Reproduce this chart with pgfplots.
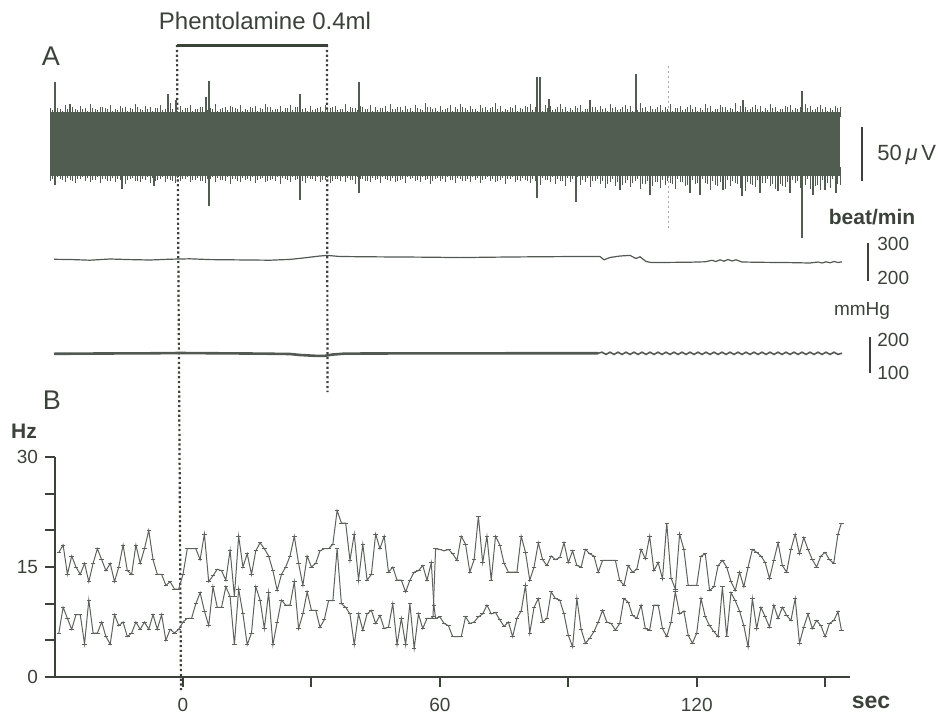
\documentclass[border=0pt]{standalone}
\usepackage{pgfplots}
\pgfplotsset{compat=1.18}
\usepackage{fontspec}
\setmainfont{Liberation Sans}
\definecolor{ink}{RGB}{58,66,58}
\definecolor{band}{RGB}{80,93,80}
\definecolor{trace}{RGB}{82,88,82}
\definecolor{btrace}{RGB}{92,98,92}
\pgfplotsset{hair/.style={draw=none, mark=none, forget plot, error bars/.cd, y dir=both, y explicit, error mark=none,
  error bar style={draw=band, line width=0.45pt}}}
\begin{document}
\begin{tikzpicture}
\useasboundingbox (0pt,0pt) rectangle (472pt,356.5pt);
% ---------------- panel A in pixel coordinates ----------------
\begin{axis}[at={(0pt,0pt)}, anchor=south west, width=472pt, height=356.5pt, scale only axis,
  xmin=0, xmax=944, ymin=0, ymax=713, y dir=reverse, axis lines=none, clip=false]
\coordinate (Bsw) at (axis cs:55,677);
% dotted drug markers
\draw[ink, line width=1.1pt, dash pattern=on 1.1pt off 1.3pt] (axis cs:177,45) -- (axis cs:181,690);
\draw[ink, line width=1.1pt, dash pattern=on 1.1pt off 1.3pt] (axis cs:327,45) -- (axis cs:327.5,392);
\draw[ink, line width=1.5pt] (axis cs:176.5,45) -- (axis cs:327.8,45);
\draw[gray!70, line width=0.5pt, dash pattern=on 1pt off 1.5pt] (axis cs:668,66) -- (axis cs:668,230);
% nerve activity band
\addplot[fill=band, draw=none, mark=none, forget plot] coordinates {(50,112) (840,112) (840,176) (50,176)};
% hairs on upper edge
\addplot[hair] table[x=x, y=y, y error=e] {
x y e
50 112 4
55 112 6
60 112 3
65 112 7
70 112 5
75 112 3
80 112 6
85 112 4
90 112 8
95 112 3
100 112 5
105 112 4
110 112 7
115 112 3
120 112 6
125 112 5
130 112 4
135 112 8
140 112 3
145 112 6
150 112 5
155 112 4
160 112 7
165 112 3
170 112 9
175 112 5
180 112 6
185 112 4
190 112 7
195 112 3
200 112 5
205 112 6
210 112 4
215 112 8
220 112 3
225 112 5
230 112 6
235 112 4
240 112 7
245 112 3
250 112 5
255 112 6
260 112 4
265 112 8
270 112 5
275 112 3
280 112 6
285 112 4
290 112 7
295 112 5
300 112 9
305 112 4
310 112 6
315 112 3
320 112 5
325 112 7
330 112 4
335 112 6
340 112 3
345 112 8
350 112 5
355 112 4
360 112 6
365 112 3
370 112 7
375 112 5
380 112 4
385 112 6
390 112 8
395 112 3
400 112 5
405 112 6
410 112 4
415 112 7
420 112 3
425 112 9
430 112 5
435 112 4
440 112 6
445 112 3
450 112 7
455 112 5
460 112 8
465 112 4
470 112 6
475 112 3
480 112 7
485 112 5
490 112 4
495 112 9
500 112 6
505 112 3
510 112 5
515 112 7
520 112 4
525 112 6
530 112 8
535 112 5
540 112 4
545 112 7
550 112 6
555 112 3
560 112 8
565 112 5
570 112 4
575 112 6
580 112 7
585 112 3
590 112 9
595 112 5
600 112 6
605 112 4
610 112 8
615 112 5
620 112 3
625 112 7
630 112 6
635 112 4
640 112 9
645 112 5
650 112 6
655 112 3
660 112 7
665 112 5
670 112 8
675 112 4
680 112 6
685 112 3
690 112 7
695 112 5
700 112 4
705 112 8
710 112 6
715 112 3
720 112 7
725 112 5
730 112 4
735 112 9
740 112 6
745 112 5
750 112 3
755 112 7
760 112 6
765 112 4
770 112 8
775 112 5
780 112 3
785 112 6
790 112 7
795 112 4
800 112 5
805 112 8
810 112 6
815 112 3
820 112 7
825 112 5
830 112 4
835 112 6
840 112 5
};
\addplot[hair] table[x=x, y=y, y error=e] {
x y e
52.5 112 2
57.5 112 4
62.5 112 1
67.5 112 3
72.5 112 5
77.5 112 2
82.5 112 3
87.5 112 1
92.5 112 4
97.5 112 2
102.5 112 5
107.5 112 3
112.5 112 1
117.5 112 2
122.5 112 4
127.5 112 1
132.5 112 3
137.5 112 5
142.5 112 2
147.5 112 3
152.5 112 1
157.5 112 4
162.5 112 2
167.5 112 5
172.5 112 3
177.5 112 1
182.5 112 2
187.5 112 4
192.5 112 1
197.5 112 3
202.5 112 5
207.5 112 2
212.5 112 3
217.5 112 1
222.5 112 4
227.5 112 2
232.5 112 5
237.5 112 3
242.5 112 1
247.5 112 2
252.5 112 4
257.5 112 1
262.5 112 3
267.5 112 5
272.5 112 2
277.5 112 3
282.5 112 1
287.5 112 4
292.5 112 2
297.5 112 5
302.5 112 3
307.5 112 1
312.5 112 2
317.5 112 4
322.5 112 1
327.5 112 3
332.5 112 5
337.5 112 2
342.5 112 3
347.5 112 1
352.5 112 4
357.5 112 2
362.5 112 5
367.5 112 3
372.5 112 1
377.5 112 2
382.5 112 4
387.5 112 1
392.5 112 3
397.5 112 5
402.5 112 2
407.5 112 3
412.5 112 1
417.5 112 4
422.5 112 2
427.5 112 5
432.5 112 3
437.5 112 1
442.5 112 2
447.5 112 4
452.5 112 1
457.5 112 3
462.5 112 5
467.5 112 2
472.5 112 3
477.5 112 1
482.5 112 4
487.5 112 2
492.5 112 5
497.5 112 3
502.5 112 1
507.5 112 2
512.5 112 4
517.5 112 1
522.5 112 3
527.5 112 5
532.5 112 2
537.5 112 3
542.5 112 1
547.5 112 4
552.5 112 2
557.5 112 5
562.5 112 3
567.5 112 1
572.5 112 2
577.5 112 4
582.5 112 1
587.5 112 3
592.5 112 5
597.5 112 2
602.5 112 3
607.5 112 1
612.5 112 4
617.5 112 2
622.5 112 5
627.5 112 3
632.5 112 1
637.5 112 2
642.5 112 4
647.5 112 1
652.5 112 3
657.5 112 5
662.5 112 2
667.5 112 3
672.5 112 1
677.5 112 4
682.5 112 2
687.5 112 5
692.5 112 3
697.5 112 1
702.5 112 2
707.5 112 4
712.5 112 1
717.5 112 3
722.5 112 5
727.5 112 2
732.5 112 3
737.5 112 1
742.5 112 4
747.5 112 2
752.5 112 5
757.5 112 3
762.5 112 1
767.5 112 2
772.5 112 4
777.5 112 1
782.5 112 3
787.5 112 5
792.5 112 2
797.5 112 3
802.5 112 1
807.5 112 4
812.5 112 2
817.5 112 5
822.5 112 3
827.5 112 1
832.5 112 2
837.5 112 4
};
% hairs on lower edge
\addplot[hair] table[x=x, y=y, y error=e] {
x y e
50 176 5
55 176 8
60 176 3
65 176 6
70 176 4
75 176 7
80 176 3
85 176 5
90 176 6
95 176 4
100 176 7
105 176 3
110 176 5
115 176 6
120 176 4
125 176 8
130 176 3
135 176 5
140 176 6
145 176 4
150 176 7
155 176 5
160 176 3
165 176 6
170 176 4
175 176 7
180 176 5
185 176 3
190 176 6
195 176 4
200 176 5
205 176 7
210 176 3
215 176 6
220 176 4
225 176 5
230 176 8
235 176 3
240 176 6
245 176 4
250 176 5
255 176 7
260 176 3
265 176 6
270 176 4
275 176 5
280 176 8
285 176 3
290 176 6
295 176 4
300 176 5
305 176 7
310 176 3
315 176 5
320 176 6
325 176 4
330 176 7
335 176 3
340 176 5
345 176 6
350 176 4
355 176 8
360 176 3
365 176 5
370 176 6
375 176 4
380 176 7
385 176 3
390 176 5
395 176 6
400 176 4
405 176 7
410 176 3
415 176 5
420 176 6
425 176 4
430 176 8
435 176 3
440 176 5
445 176 6
450 176 4
455 176 7
460 176 3
465 176 5
470 176 6
475 176 4
480 176 7
485 176 3
490 176 5
495 176 6
500 176 4
505 176 8
510 176 3
515 176 6
520 176 5
525 176 4
530 176 7
535 176 5
540 176 9
545 176 4
550 176 6
555 176 8
560 176 5
565 176 10
570 176 6
575 176 4
580 176 9
585 176 6
590 176 11
595 176 5
600 176 8
605 176 12
610 176 6
615 176 10
620 176 14
625 176 7
630 176 11
635 176 5
640 176 13
645 176 8
650 176 10
655 176 6
660 176 12
665 176 9
670 176 7
675 176 13
680 176 6
685 176 10
690 176 15
695 176 8
700 176 12
705 176 7
710 176 14
715 176 9
720 176 6
725 176 13
730 176 10
735 176 7
740 176 12
745 176 15
750 176 8
755 176 11
760 176 14
765 176 7
770 176 10
775 176 13
780 176 8
785 176 11
790 176 15
795 176 7
800 176 12
805 176 9
810 176 13
815 176 10
820 176 14
825 176 8
830 176 12
835 176 16
840 176 9
};
\addplot[hair] table[x=x, y=y, y error=e] {
x y e
52.5 176 3
57.5 176 1
62.5 176 4
67.5 176 2
72.5 176 5
77.5 176 3
82.5 176 1
87.5 176 2
92.5 176 4
97.5 176 1
102.5 176 3
107.5 176 5
112.5 176 2
117.5 176 3
122.5 176 1
127.5 176 4
132.5 176 2
137.5 176 5
142.5 176 3
147.5 176 1
152.5 176 2
157.5 176 4
162.5 176 1
167.5 176 3
172.5 176 5
177.5 176 2
182.5 176 3
187.5 176 1
192.5 176 4
197.5 176 2
202.5 176 5
207.5 176 3
212.5 176 1
217.5 176 2
222.5 176 4
227.5 176 1
232.5 176 3
237.5 176 5
242.5 176 2
247.5 176 3
252.5 176 1
257.5 176 4
262.5 176 2
267.5 176 5
272.5 176 3
277.5 176 1
282.5 176 2
287.5 176 4
292.5 176 1
297.5 176 3
302.5 176 5
307.5 176 2
312.5 176 3
317.5 176 1
322.5 176 4
327.5 176 2
332.5 176 5
337.5 176 3
342.5 176 1
347.5 176 2
352.5 176 4
357.5 176 1
362.5 176 3
367.5 176 5
372.5 176 2
377.5 176 3
382.5 176 1
387.5 176 4
392.5 176 2
397.5 176 5
402.5 176 3
407.5 176 1
412.5 176 2
417.5 176 4
422.5 176 1
427.5 176 3
432.5 176 5
437.5 176 2
442.5 176 3
447.5 176 1
452.5 176 4
457.5 176 2
462.5 176 5
467.5 176 3
472.5 176 1
477.5 176 2
482.5 176 4
487.5 176 1
492.5 176 3
497.5 176 5
502.5 176 2
507.5 176 3
512.5 176 1
517.5 176 4
522.5 176 2
527.5 176 5
532.5 176 3
537.5 176 1
542.5 176 2
547.5 176 4
552.5 176 1
557.5 176 3
562.5 176 5
567.5 176 2
572.5 176 3
577.5 176 1
582.5 176 4
587.5 176 2
592.5 176 5
597.5 176 3
602.5 176 5
607.5 176 8
612.5 176 3
617.5 176 6
622.5 176 9
627.5 176 4
632.5 176 7
637.5 176 3
642.5 176 8
647.5 176 5
652.5 176 10
657.5 176 6
662.5 176 4
667.5 176 5
672.5 176 8
677.5 176 3
682.5 176 6
687.5 176 9
692.5 176 4
697.5 176 7
702.5 176 3
707.5 176 8
712.5 176 5
717.5 176 10
722.5 176 6
727.5 176 4
732.5 176 5
737.5 176 8
742.5 176 3
747.5 176 6
752.5 176 9
757.5 176 4
762.5 176 7
767.5 176 3
772.5 176 8
777.5 176 5
782.5 176 10
787.5 176 6
792.5 176 4
797.5 176 5
802.5 176 8
807.5 176 3
812.5 176 6
817.5 176 9
822.5 176 4
827.5 176 7
832.5 176 3
837.5 176 8
};
% large spikes
\addplot[band, line width=0.6pt, mark=none, unbounded coords=jump, forget plot] coordinates {
(55,82) (55,185) (56,nan)
(70,104) (70,113) (71,nan)
(122,113) (122,189) (123,nan)
(154,113) (154,186) (155,nan)
(168,94) (168,113) (169,nan)
(176,100) (176,113) (177,nan)
(206,97) (206,113) (207,nan)
(209,81) (209,206) (210,nan)
(359,82) (359,193) (360,nan)
(537,77) (537,198) (538,nan)
(540,77) (540,113) (541,nan)
(549,99) (549,113) (550,nan)
(576,113) (576,202) (577,nan)
(590,100) (590,113) (591,nan)
(620,113) (620,190) (621,nan)
(636,74) (636,113) (637,nan)
(650,113) (650,195) (651,nan)
(690,113) (690,193) (691,nan)
(700,113) (700,195) (701,nan)
(723,113) (723,190) (724,nan)
(742,113) (742,196) (743,nan)
(743,100) (743,113) (744,nan)
(760,113) (760,193) (761,nan)
(778,113) (778,191) (779,nan)
(790,113) (790,193) (791,nan)
(802,91) (802,238) (803,nan)
(813,113) (813,195) (814,nan)
(825,113) (825,190) (826,nan)
(836,113) (836,193)
};
\addplot[band, line width=1.2pt, mark=none, forget plot] coordinates {(300,94) (300,200)};
% heart rate
\addplot[trace, line width=0.6pt, mark=none] coordinates {
(54,259.3) (70,259.5) (90,260.2) (110,259.0) (130,259.6) (150,260.0) (170,259.2) (190,258.8)
(210,259.6) (240,259.9) (270,260.2) (290,259.4) (305,257.8) (318,256.2) (327,255.4) (340,256.5)
(370,256.8) (400,257.0) (430,257.2) (460,257.6) (490,257.2) (520,256.9) (560,256.6) (600,256.5)
(604,259.8) (610,257.5) (620,256.0) (630,255.4) (636,258.5) (640,256.8) (646,261.5) (652,262.6)
(670,262.4) (690,262.2) (705,261.8) (712,260.3) (716,261.5) (720,259.8) (724,261.2) (728,259.5)
(732,261.0) (736,259.8) (742,262.0) (760,262.3) (790,262.6) (810,263.0) (818,262.0) (822,263.0)
(826,261.8) (830,262.8) (834,261.5) (838,262.5) (842,261.8)};
% blood pressure
\addplot[trace, line width=1.3pt, mark=none] coordinates {
(54,353.8) (100,353.5) (150,353.3) (180,353.0) (220,353.3) (260,353.6) (290,354.0) (300,355.0)
(315,355.8) (325,355.8) (332,354.6) (345,353.6) (400,353.4) (500,353.3) (598,353.2)};
\addplot[trace, line width=0.8pt, mark=none] coordinates {
(598,353.2) (602,352.2) (606,354.4) (610,352.2) (614,354.4) (618,352.2) (622,354.4) (626,352.2)
(630,354.4) (634,352.2) (638,354.4) (642,352.2) (646,354.4) (650,352.2) (654,354.4) (658,352.2)
(662,354.4) (666,352.2) (670,354.4) (674,352.2) (678,354.4) (682,352.2) (686,354.4) (690,352.2)
(694,354.4) (698,352.2) (702,354.4) (706,352.2) (710,354.4) (714,352.2) (718,354.4) (722,352.2)
(726,354.4) (730,352.2) (734,354.4) (738,352.2) (742,354.4) (746,352.2) (750,354.4) (754,352.2)
(758,354.4) (762,352.2) (766,354.4) (770,352.2) (774,354.4) (778,352.2) (782,354.4) (786,352.2)
(790,354.4) (794,352.2) (798,354.4) (802,352.2) (806,354.4) (810,352.2) (814,354.4) (818,352.2)
(822,354.4) (826,352.2) (830,354.4) (834,352.2) (838,354.4) (842,353.2)};
% scale bars
\draw[ink, line width=1.3pt] (axis cs:862,127) -- (axis cs:862,181);
\draw[ink, line width=1.3pt] (axis cs:868,243) -- (axis cs:868,281);
\draw[ink, line width=1.3pt] (axis cs:870,337) -- (axis cs:870,373);
% texts
\node[text=ink, font=\fontsize{12}{14}\selectfont] at (axis cs:265,21) {Phentolamine 0.4ml};
\node[text=ink, font=\fontsize{13.5}{15}\selectfont] at (axis cs:51,56) {A};
\node[text=ink, font=\fontsize{13.5}{15}\selectfont] at (axis cs:52,400) {B};
\node[text=ink, anchor=west, inner sep=0pt, font=\fontsize{11}{13}\selectfont] at (axis cs:877,155) {50\,\textit{μ}\,V};
\node[text=ink, font=\bfseries\fontsize{10.5}{12}\selectfont] at (axis cs:872,217) {beat/min};
\node[text=ink, anchor=west, inner sep=0pt, font=\fontsize{9.5}{11}\selectfont] at (axis cs:877,244) {300};
\node[text=ink, anchor=west, inner sep=0pt, font=\fontsize{9.5}{11}\selectfont] at (axis cs:877,278) {200};
\node[text=ink, font=\fontsize{9.5}{11}\selectfont] at (axis cs:862,311) {mmHg};
\node[text=ink, anchor=west, inner sep=0pt, font=\fontsize{9.5}{11}\selectfont] at (axis cs:877,340) {200};
\node[text=ink, anchor=west, inner sep=0pt, font=\fontsize{9.5}{11}\selectfont] at (axis cs:877,373) {100};
\node[text=ink, font=\bfseries\fontsize{10.5}{12}\selectfont] at (axis cs:24,431) {Hz};
\node[text=ink, font=\bfseries\fontsize{11.5}{13}\selectfont] at (axis cs:871,702) {sec};
\end{axis}
% ---------------- panel B ----------------
\begin{axis}[at={(Bsw)}, anchor=south west, width=397.5pt, height=110pt, scale only axis,
  xmin=-29.9, xmax=155.8, ymin=0, ymax=30,
  axis x line=bottom, axis y line=left,
  axis line style={-, line width=1.3pt, ink},
  x axis line style={-}, y axis line style={-},
  xtick={0,30,60,90,120,150}, xticklabels={0,,60,,120,},
  ytick={0,5,10,15,20,25,30}, yticklabels={0,,,15,,,30},
  tick align=outside, major tick length=5pt,
  tick style={line width=1pt, ink},
  ticklabel style={font=\fontsize{9.5}{11}\selectfont, text=ink},
  xticklabel style={yshift=-2pt},
  /pgf/number format/assume math mode=true,
  clip=false]
\addplot[btrace, line width=0.5pt, mark=-, mark size=1.1pt, mark options={line width=0.5pt}] table {
-29 17.0
-28 18.0
-27 14.0
-26 16.5
-25 15.0
-24 14.0
-23 15.5
-22 13.0
-21 15.5
-20 17.5
-19 16.0
-18 14.5
-17 15.5
-16 13.0
-15 15.0
-14 18.0
-13 14.5
-12 14.0
-11 18.0
-10 15.5
-9 17.5
-8 20.0
-7 16.0
-6 14.0
-5 14.0
-4 12.5
-3 13.0
-2 12.0
-1 12.0
0 14.0
1 17.5
2 17.5
3 17.5
4 16.0
5 19.5
6 13.0
7 13.8
8 14.7
9 14.5
10 13.2
11 17.3
12 11.0
13 19.2
14 15.0
15 16.8
16 14.0
17 17.2
18 18.3
19 17.5
20 16.5
21 14.5
22 11.8
23 14.0
24 15.0
25 16.5
26 19.2
27 15.5
28 12.5
29 16.5
30 15.0
31 15.5
32 17.2
33 17.5
34 17.5
35 18.1
36 22.7
37 21.0
38 21.0
39 15.9
40 19.5
41 13.2
42 18.1
43 13.2
44 14.0
45 19.5
46 17.5
47 19.2
48 14.3
49 15.0
50 13.2
51 13.2
52 11.6
53 13.2
54 14.3
55 14.5
56 15.2
57 13.2
58 15.6
58.6 9.8
59 8.0
60 8.2
61 7.3
62 7.0
63 5.5
64 5.5
65 5.5
66 8.2
67 7.3
68 7.5
69 8.2
70 8.6
71 9.8
72 8.6
73 8.8
74 7.8
75 6.9
76 7.5
77 5.5
78 8.0
79 9.0
80 12.5
81 6.0
82 9.5
83 10.7
84 7.5
85 8.0
86 11.6
87 10.7
88 10.5
89 8.6
90 5.7
91 4.1
92 10.7
93 6.5
94 4.6
95 5.3
96 6.2
97 7.5
98 9.1
99 7.5
100 7.3
101 6.4
102 7.3
103 10.7
104 10.2
105 8.4
106 8.0
107 9.8
108 6.6
109 6.4
110 9.8
111 9.8
112 6.6
113 5.5
114 7.5
115 11.6
116 8.6
117 9.0
118 5.7
119 4.6
120 6.0
121 10.7
122 8.2
123 7.0
124 6.2
125 5.5
126 12.3
127 5.5
128 11.5
129 10.4
130 9.0
131 7.0
132 4.1
133 10.7
134 6.6
135 9.5
136 8.2
137 6.8
138 9.8
139 8.0
140 9.5
141 8.4
142 7.7
143 10.7
144 4.6
145 6.8
146 8.6
147 6.6
148 7.7
149 7.0
150 5.5
151 7.3
152 7.7
153 8.9
153.8 6.4
};
\addplot[btrace, line width=0.5pt, mark=-, mark size=1.1pt, mark options={line width=0.5pt}] table {
-29 6.0
-28 9.5
-27 8.0
-26 6.5
-25 8.5
-24 8.5
-23 4.5
-22 10.5
-21 6.0
-20 6.0
-19 7.5
-18 5.5
-17 4.5
-16 8.5
-15 7.0
-14 7.5
-13 5.5
-12 6.0
-11 7.5
-10 6.5
-9 7.5
-8 6.5
-7 8.5
-6 6.5
-5 8.5
-4 5.0
-3 6.5
-2 6.0
-1 6.5
0 7.5
1 8.0
2 8.0
3 10.0
4 11.5
5 9.0
6 7.0
7 12.3
8 9.5
9 9.5
10 12.3
11 11.0
12 4.4
13 12.0
14 8.6
15 4.4
16 6.0
17 12.3
18 10.5
19 6.6
20 11.5
21 4.4
22 7.5
23 10.5
24 9.8
25 9.8
26 13.0
27 6.6
28 8.6
29 11.6
30 9.1
31 9.1
32 6.8
33 7.8
34 10.4
35 10.4
36 17.5
37 10.0
38 9.5
39 8.6
40 4.4
41 8.6
42 6.4
43 8.6
44 9.1
45 7.3
46 8.4
47 6.6
48 6.8
49 10.0
50 4.4
51 8.0
52 4.4
53 10.0
54 3.9
55 8.6
56 6.6
57 8.0
58 8.0
58.4 8.2
59 17.5
60 17.4
61 17.2
62 17.4
63 16.8
64 15.9
65 19.2
66 18.1
67 14.3
68 16.0
69 21.9
70 15.6
71 19.2
72 13.2
73 19.2
74 18.0
75 15.5
76 14.3
77 14.3
78 14.3
79 19.2
80 17.0
81 13.2
82 15.0
83 18.3
84 16.0
85 15.2
86 16.5
87 16.0
88 16.3
89 18.3
90 15.6
91 17.2
92 15.2
93 15.0
94 17.4
95 16.8
96 16.5
97 14.3
98 15.9
99 15.9
100 15.9
101 15.9
102 13.2
103 12.5
104 15.2
105 14.3
106 14.7
107 17.4
108 16.1
109 19.2
110 14.5
111 15.6
112 13.4
113 21.0
114 13.5
115 12.0
116 19.5
117 17.4
118 12.5
119 12.5
120 12.5
121 16.5
122 16.8
123 11.8
124 12.3
125 15.2
126 15.9
127 15.0
128 13.0
129 11.8
130 14.3
131 12.3
132 15.0
133 17.4
134 17.0
135 16.5
136 15.6
137 13.4
138 15.9
139 18.3
140 15.2
141 14.3
142 17.4
143 19.5
144 16.8
145 19.0
146 17.4
147 16.0
148 15.0
149 16.5
150 17.0
151 16.0
152 15.5
153 19.5
153.8 21.0
};
\end{axis}
\end{tikzpicture}
\end{document}
